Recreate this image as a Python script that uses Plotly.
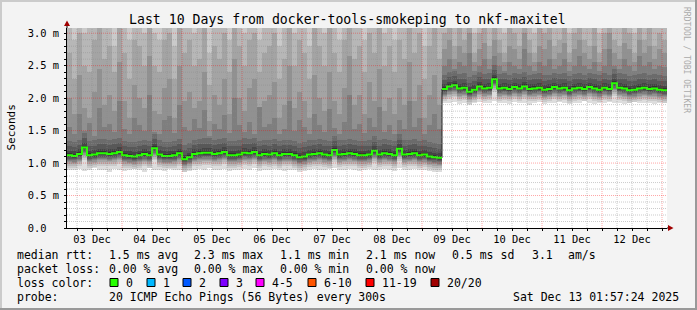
import plotly.graph_objects as go
from datetime import datetime, timedelta

# ---------------- data ----------------
start_time = datetime(2025, 12, 3, 2, 0)
end_time = datetime(2025, 12, 13, 2, 0)
bin_hours = 2
day_labels = ["03 Dec", "04 Dec", "05 Dec", "06 Dec", "07 Dec",
              "08 Dec", "09 Dec", "10 Dec", "11 Dec", "12 Dec"]
y_tick_values = [0.0, 0.5, 1.0, 1.5, 2.0, 2.5, 3.0]
y_tick_labels = ["0.0\u00a0\u00a0", "0.5 m", "1.0 m", "1.5 m", "2.0 m", "2.5 m", "3.0 m"]
y_top_ms = 3.08

# median RTT per 2h bin (ms)
median_ms = [
    1.12, 1.11, 1.14, 1.24, 1.12, 1.13, 1.15, 1.15, 1.14, 1.15,
    1.17, 1.12, 1.11, 1.10, 1.12, 1.14, 1.12, 1.23, 1.13, 1.11,
    1.11, 1.12, 1.15, 1.06, 1.09, 1.14, 1.15, 1.16, 1.16, 1.14,
    1.15, 1.17, 1.12, 1.12, 1.13, 1.16, 1.15, 1.17, 1.12, 1.14,
    1.13, 1.15, 1.12, 1.14, 1.14, 1.12, 1.09, 1.10, 1.13, 1.14,
    1.15, 1.13, 1.12, 1.20, 1.13, 1.14, 1.15, 1.14, 1.12, 1.12,
    1.13, 1.19, 1.13, 1.15, 1.14, 1.12, 1.22, 1.13, 1.14, 1.15,
    1.12, 1.13, 1.10, 1.09, 1.08,
    2.14, 2.18, 2.20, 2.15, 2.16, 2.10, 2.13, 2.18, 2.15, 2.16,
    2.29, 2.15, 2.16, 2.14, 2.17, 2.15, 2.18, 2.14, 2.15, 2.16,
    2.13, 2.14, 2.17, 2.15, 2.16, 2.12, 2.15, 2.16, 2.14, 2.17,
    2.15, 2.13, 2.16, 2.14, 2.23, 2.16, 2.15, 2.12, 2.13, 2.15,
    2.16, 2.14, 2.15, 2.13, 2.12,
]

# fastest ping per bin (ms) - lower edge of the smoke
ping_min_ms = [
    0.90, 0.89, 0.91, 0.88, 0.90, 0.92, 0.89, 0.90, 0.87, 0.91,
    0.90, 0.88, 0.89, 0.91, 0.90, 0.87, 0.92, 0.89, 0.90, 0.88,
    0.91, 0.89, 0.90, 0.86, 0.88, 0.90, 0.91, 0.89, 0.92, 0.90,
    0.89, 0.91, 0.88, 0.90, 0.89, 0.91, 0.90, 0.92, 0.88, 0.90,
    0.89, 0.91, 0.90, 0.88, 0.90, 0.89, 0.87, 0.88, 0.90, 0.91,
    0.90, 0.89, 0.91, 0.92, 0.89, 0.90, 0.91, 0.89, 0.88, 0.90,
    0.91, 0.90, 0.89, 0.91, 0.90, 0.88, 0.92, 0.89, 0.90, 0.91,
    0.89, 0.90, 0.88, 0.87, 0.87,
    1.92, 1.93, 1.94, 1.91, 1.93, 1.90, 1.92, 1.94, 1.92, 1.93,
    1.95, 1.92, 1.93, 1.91, 1.94, 1.92, 1.93, 1.90, 1.92, 1.94,
    1.91, 1.93, 1.92, 1.94, 1.93, 1.91, 1.92, 1.93, 1.95, 1.92,
    1.91, 1.93, 1.92, 1.94, 1.93, 1.92, 1.91, 1.93, 1.94, 1.92,
    1.93, 1.92, 1.91, 1.93, 1.92,
]

# 15th..18th fastest of 20 pings per bin (ms)
ping15_ms = [
    1.55, 1.45, 1.75, 1.50, 1.62, 1.42, 1.85, 1.55, 1.60, 1.48,
    1.95, 1.52, 1.45, 1.70, 1.58, 1.50, 2.05, 1.48, 1.44, 1.66,
    1.72, 1.46, 1.90, 1.56, 1.50, 1.68, 1.54, 1.82, 1.42, 1.60,
    1.52, 1.74, 1.46, 2.00, 1.58, 1.48, 1.64, 1.44, 1.86, 1.55,
    1.60, 1.70, 1.45, 1.52, 1.95, 1.50, 1.66, 1.55, 1.44, 1.76,
    1.58, 1.48, 1.84, 1.54, 1.45, 1.64, 2.05, 1.52, 1.60, 1.46,
    1.70, 1.55, 1.86, 1.48, 1.58, 1.44, 1.66, 1.52, 1.95, 1.55,
    1.70, 1.45, 1.58, 1.75, 1.52,
    2.50, 2.60, 2.45, 2.55, 2.50, 2.70, 2.42, 2.50, 2.60, 2.45,
    2.65, 2.50, 2.42, 2.55, 2.50, 2.45, 2.75, 2.50, 2.42, 2.55,
    2.50, 2.60, 2.45, 2.50, 2.60, 2.42, 2.50, 2.65, 2.50, 2.45,
    2.55, 2.42, 2.50, 2.75, 2.50, 2.45, 2.60, 2.50, 2.42, 2.65,
    2.50, 2.55, 2.45, 2.50, 2.48,
]
ping16_ms = [
    2.00, 1.75, 2.35, 1.85, 1.70, 2.10, 2.45, 1.90, 2.05, 1.80,
    2.55, 1.95, 1.70, 2.20, 2.00, 1.85, 2.65, 1.80, 1.75, 2.15,
    2.30, 1.70, 2.50, 1.95, 2.10, 1.85, 1.95, 2.40, 1.65, 2.05,
    1.90, 2.30, 1.75, 2.60, 2.00, 1.80, 2.15, 2.30, 1.75, 1.95,
    2.05, 2.25, 1.70, 1.90, 2.50, 1.85, 2.10, 1.95, 1.70, 2.35,
    2.00, 1.80, 2.40, 1.95, 1.75, 2.15, 2.65, 1.90, 2.05, 1.75,
    2.25, 1.95, 2.45, 1.80, 2.00, 1.75, 2.15, 1.90, 2.55, 1.95,
    2.20, 1.70, 2.05, 2.35, 1.90,
    2.75, 2.90, 2.60, 2.80, 2.70, 3.00, 2.55, 2.75, 2.85, 2.60,
    2.90, 2.70, 2.55, 2.80, 2.75, 2.60, 3.00, 2.70, 2.55, 2.80,
    2.75, 2.90, 2.60, 2.70, 2.85, 2.55, 2.75, 2.90, 2.70, 2.60,
    2.80, 2.55, 2.75, 3.00, 2.70, 2.60, 2.85, 2.75, 2.55, 2.90,
    2.70, 2.80, 2.60, 2.75, 2.70,
]
ping17_ms = [
    2.7, 2.3, 3.0, 2.5, 2.4, 2.9, 3.2, 2.6, 2.8, 2.4,
    3.3, 2.7, 2.3, 2.9, 2.8, 2.5, 3.3, 2.5, 2.4, 2.9,
    3.0, 2.3, 3.2, 2.7, 2.9, 2.5, 2.6, 3.1, 2.2, 2.8,
    2.6, 3.0, 2.4, 3.3, 2.8, 2.5, 2.9, 3.0, 2.4, 2.7,
    2.8, 3.0, 2.3, 2.6, 3.2, 2.5, 2.9, 2.7, 2.3, 3.1,
    2.8, 2.5, 3.1, 2.7, 2.4, 2.9, 3.3, 2.6, 2.8, 2.4,
    3.0, 2.7, 3.2, 2.5, 2.8, 2.4, 2.9, 2.6, 3.3, 2.7,
    3.0, 2.3, 2.8, 3.1, 2.6,
    3.0, 3.2, 2.8, 3.1, 2.9, 3.3, 2.7, 3.0, 3.1, 2.8,
    3.2, 2.9, 2.7, 3.1, 3.0, 2.8, 3.3, 2.9, 2.7, 3.1,
    3.0, 3.2, 2.8, 2.9, 3.1, 2.7, 3.0, 3.2, 2.9, 2.8,
    3.1, 2.7, 3.0, 3.3, 2.9, 2.8, 3.1, 3.0, 2.7, 3.2,
    2.9, 3.1, 2.8, 3.0, 2.9,
]
ping18_ms = [
    3.3, 2.9, 3.5, 3.0, 3.2, 3.4, 3.6, 3.1, 3.3, 2.8,
    3.6, 3.2, 2.9, 3.4, 3.3, 3.0, 3.6, 3.0, 2.9, 3.4,
    3.5, 2.8, 3.6, 3.2, 3.4, 3.0, 3.1, 3.5, 2.7, 3.3,
    3.1, 3.5, 2.9, 3.6, 3.3, 3.0, 3.4, 3.5, 2.9, 3.2,
    3.3, 3.5, 2.8, 3.1, 3.6, 3.0, 3.4, 3.2, 2.8, 3.5,
    3.3, 3.0, 3.5, 3.2, 2.9, 3.4, 3.6, 3.1, 3.3, 2.9,
    3.5, 3.2, 3.6, 3.0, 3.3, 2.9, 3.4, 3.1, 3.6, 3.2,
    3.5, 2.8, 3.3, 3.5, 3.1,
    3.3, 3.5, 3.1, 3.4, 3.2, 3.6, 3.0, 3.3, 3.4, 3.1,
    3.5, 3.2, 3.0, 3.4, 3.3, 3.1, 3.6, 3.2, 3.0, 3.4,
    3.3, 3.5, 3.1, 3.2, 3.4, 3.0, 3.3, 3.5, 3.2, 3.1,
    3.4, 3.0, 3.3, 3.6, 3.2, 3.1, 3.4, 3.3, 3.0, 3.5,
    3.2, 3.4, 3.1, 3.3, 3.2,
]
# pings 2..10 (below median) and 11..14 (above median), as distance from the median (ms)
lower_offsets_ms = [0.19, 0.16, 0.13, 0.11, 0.09, 0.07, 0.05, 0.03, 0.015]
upper_offsets_ms = [0.03, 0.07, 0.14, 0.22]
# slowest two pings go beyond the graph's upper limit
ping19_ms = 3.8
ping20_ms = 4.5

stats_rtt = [("median rtt:", 16), ("1.5 ms avg", 108), ("2.3 ms max", 192.5),
             ("1.1 ms min", 279), ("2.1 ms now", 365), ("0.5 ms sd", 451),
             ("3.1", 530.5), ("am/s", 567)]
stats_loss = [("packet loss:", 16), ("0.00 % avg", 108), ("0.00 % max", 192.5),
              ("0.00 % min", 279), ("0.00 % now", 365)]
loss_labels = ["0", "1", "2", "3", "4-5", "6-10", "11-19", "20/20"]
loss_colors = ["#26ff00", "#00b8ff", "#0059ff", "#7e00ff", "#ff00ff",
               "#ff5500", "#ff0000", "#a00000"]
probe_text = "20 ICMP Echo Pings (56 Bytes) every 300s"
date_text = "Sat Dec 13 01:57:24 2025"
title_text = "Last 10 Days from docker-tools-smokeping to nkf-maxitel"

# ---------------- layout geometry (pixels) ----------------
FW, FH = 697, 310
L, T, W, H = 67, 28, 600, 200


def X(px):
    return (px - L) / W


def Y(py):
    return (T + H - py) / H


MONO = "DejaVu Sans Mono"
n = len(median_ms)
starts = [start_time + timedelta(hours=bin_hours * i) for i in range(n)]
centers = [s + timedelta(hours=bin_hours / 2) for s in starts]
bin_ms = bin_hours * 3600 * 1000

# assemble 20 sorted pings per bin
p = [None] * 21
p[1] = ping_min_ms
for j, off in enumerate(lower_offsets_ms):
    p[2 + j] = [m - off for m in median_ms]
for j, off in enumerate(upper_offsets_ms):
    p[11 + j] = [m + off for m in median_ms]
p[15], p[16], p[17], p[18] = ping15_ms, ping16_ms, ping17_ms, ping18_ms
p[19] = [ping19_ms] * n
p[20] = [ping20_ms] * n

fig = go.Figure()
half = 10
for k in range(1, half + 1):
    g = int(190 / half * (half - k)) + 50
    col = "#%02x%02x%02x" % (g, g, g)
    lo = p[k]
    hi = p[21 - k]
    fig.add_trace(go.Bar(
        x=centers, base=lo, y=[h - l for h, l in zip(hi, lo)], width=bin_ms,
        marker=dict(color=col, line=dict(width=0)),
        showlegend=False, hoverinfo="skip"))

# median line, split at the large jump
split = next(i for i in range(1, n) if abs(median_ms[i] - median_ms[i - 1]) > 0.5)
end_last = starts[-1] + timedelta(hours=bin_hours)
segs = [(0, split, starts[split]), (split, n, end_last)]
fig.add_trace(go.Scatter(
    x=[starts[split], starts[split]], y=[median_ms[split - 1], median_ms[split]],
    mode="lines", line=dict(color="#202020", width=1), showlegend=False, hoverinfo="skip"))
for a, b, tend in segs:
    fig.add_trace(go.Scatter(
        x=starts[a:b] + [tend], y=median_ms[a:b] + [median_ms[b - 1]],
        mode="lines", line=dict(color=loss_colors[0], width=2, shape="hv"),
        showlegend=False, hoverinfo="skip"))

shapes = []
# grid (drawn above the smoke, like rrdtool)
minor_col = "rgba(140,140,140,0.45)"
major_col = "rgba(255,0,0,0.35)"
t = start_time.replace(hour=0) + timedelta(hours=6)
while t < end_time:
    if t > start_time:
        col = major_col if t.hour == 0 else minor_col
        shapes.append(dict(type="line", xref="x", yref="y domain", x0=t, x1=t, y0=0, y1=1,
                           line=dict(color=col, width=1, dash="1px,1px"), layer="above"))
    t += timedelta(hours=6)
for i in range(1, 31):
    v = i / 10
    col = major_col if i % 5 == 0 else minor_col
    shapes.append(dict(type="line", xref="x domain", yref="y", x0=0, x1=1, y0=v, y1=v,
                       line=dict(color=col, width=1, dash="1px,1px"), layer="above"))

# axis extensions and arrows
arrow_col = "#a00000"
shapes.append(dict(type="line", xref="paper", yref="paper", x0=X(667), x1=X(669), y0=0, y1=0,
                   line=dict(color="black", width=1), layer="above"))
shapes.append(dict(type="path", xref="paper", yref="paper",
                   path="M %f %f L %f %f L %f %f Z" % (X(668), Y(225), X(673.5), Y(228), X(668), Y(231)),
                   fillcolor=arrow_col, line=dict(width=0), layer="above"))
shapes.append(dict(type="line", xref="paper", yref="paper", x0=0, x1=0, y0=1, y1=Y(25),
                   line=dict(color="black", width=1), layer="above"))
shapes.append(dict(type="path", xref="paper", yref="paper",
                   path="M %f %f L %f %f L %f %f Z" % (X(64), Y(26), X(67), Y(20.5), X(70), Y(26)),
                   fillcolor=arrow_col, line=dict(width=0), layer="above"))

# frame
shapes.append(dict(type="rect", xref="paper", yref="paper", x0=X(0), x1=X(FW), y0=Y(0), y1=Y(2),
                   fillcolor="#cbcbcb", line=dict(width=0), layer="below"))
shapes.append(dict(type="rect", xref="paper", yref="paper", x0=X(0), x1=X(2), y0=Y(0), y1=Y(FH),
                   fillcolor="#cbcbcb", line=dict(width=0), layer="below"))
shapes.append(dict(type="rect", xref="paper", yref="paper", x0=X(0), x1=X(FW), y0=Y(FH - 2), y1=Y(FH),
                   fillcolor="#999999", line=dict(width=0), layer="below"))
shapes.append(dict(type="rect", xref="paper", yref="paper", x0=X(FW - 2), x1=X(FW), y0=Y(0), y1=Y(FH),
                   fillcolor="#999999", line=dict(width=0), layer="below"))

annotations = []


def text(s, px, py, size=11.5, anchor="left", color="black", family=MONO, angle=0):
    annotations.append(dict(text=s, x=X(px), y=Y(py), xref="paper", yref="paper",
                            xanchor=anchor, yanchor="middle", showarrow=False,
                            font=dict(family=family, size=size, color=color),
                            textangle=angle, borderpad=0))


text(title_text, 347.5, 19.5, size=13.2, anchor="center")
text("Seconds", 11, 127.5, size=11, anchor="center", angle=-90)
text("RRDTOOL / TOBI OETIKER", 687, 60, size=8, anchor="center", color="#aaaaaa", angle=90)

for s, px in stats_rtt:
    text(s, px, 255)
for s, px in stats_loss:
    text(s, px, 268.5)
text("loss color:", 16, 282.5)
box_left = [110, 147, 183, 220, 256, 308, 366, 431]
for lab, colr, bx in zip(loss_labels, loss_colors, box_left):
    shapes.append(dict(type="rect", xref="paper", yref="paper", x0=X(bx), x1=X(bx + 8),
                       y0=Y(286.5), y1=Y(278.5), fillcolor=colr,
                       line=dict(color="black", width=1), layer="above"))
    text(lab, bx + 15, 282.5)
text("probe:", 16, 296.5)
text(probe_text, 108, 296.5)
text(date_text, 680, 296.5, anchor="right")

fig.update_layout(
    width=FW, height=FH,
    margin=dict(l=L, r=FW - L - W, t=T, b=FH - T - H),
    paper_bgcolor="#f3f3f3", plot_bgcolor="white",
    barmode="overlay", bargap=0,
    showlegend=False,
    shapes=shapes, annotations=annotations,
    xaxis=dict(type="date", range=[start_time, end_time], showgrid=False, zeroline=False,
               showline=True, linecolor="black", linewidth=1,
               tickvals=[datetime(2025, 12, 3 + i, 12) for i in range(len(day_labels))],
               ticktext=day_labels, ticks="outside", ticklen=2, tickcolor="black",
               tickfont=dict(family=MONO, size=10.4, color="black"),
               minor=dict(ticks="outside", ticklen=2, tickcolor="black",
                          dtick=6 * 3600 * 1000, tick0="2025-12-03 00:00"),
               fixedrange=True),
    yaxis=dict(range=[0, y_top_ms], showgrid=False, zeroline=False,
               showline=True, linecolor="black", linewidth=1,
               tickvals=y_tick_values, ticktext=y_tick_labels,
               ticks="outside", ticklen=2, tickcolor="black", ticklabelstandoff=3,
               tickfont=dict(family=MONO, size=10.4, color="black"),
               minor=dict(ticks="outside", ticklen=2, tickcolor="black", dtick=0.1),
               fixedrange=True),
)

fig.write_html("out.html")
